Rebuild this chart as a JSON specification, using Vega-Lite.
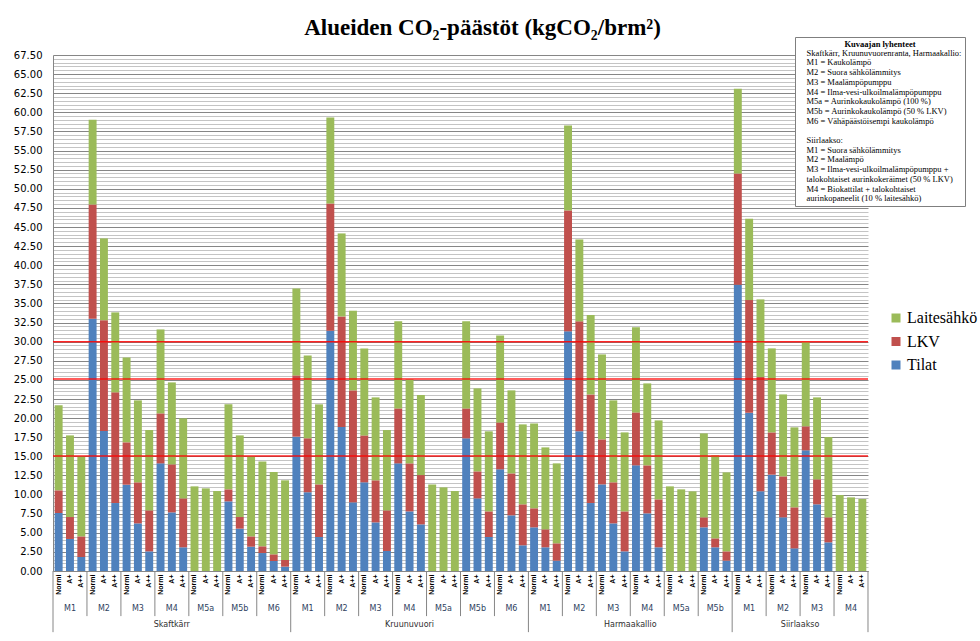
{
  "$schema": "https://vega.github.io/schema/vega-lite/v6.json",
  "width": 815,
  "height": 516,
  "autosize": {"type": "none"},
  "padding": {"left": 53, "top": 55, "right": 112, "bottom": 70},
  "background": "#ffffff",
  "config": {"view": {"stroke": null}, "axisY": {"tickCount": 135}},
  "title": {"text": "Alueiden CO₂-päästöt (kgCO₂/brm²)", "font": "Liberation Serif", "fontSize": 23, "fontWeight": "bold", "color": "#000000", "anchor": "middle", "offset": 14, "dx": 22, "dy": 17},
  "data": {"values": [
    {"area": "Skaftkärr", "M": "M1", "pos": "Normi", "Tilat": 7.59, "LKV": 2.96, "Laitesahko": 11.12},
    {"area": "Skaftkärr", "M": "M1", "pos": "A+", "Tilat": 4.19, "LKV": 2.87, "Laitesahko": 10.68},
    {"area": "Skaftkärr", "M": "M1", "pos": "A++", "Tilat": 1.83, "LKV": 2.70, "Laitesahko": 10.47},
    {"area": "Skaftkärr", "M": "M2", "pos": "Normi", "Tilat": 33.00, "LKV": 14.95, "Laitesahko": 11.08},
    {"area": "Skaftkärr", "M": "M2", "pos": "A+", "Tilat": 18.31, "LKV": 14.50, "Laitesahko": 10.70},
    {"area": "Skaftkärr", "M": "M2", "pos": "A++", "Tilat": 8.89, "LKV": 14.48, "Laitesahko": 10.46},
    {"area": "Skaftkärr", "M": "M3", "pos": "Normi", "Tilat": 11.29, "LKV": 5.54, "Laitesahko": 11.11},
    {"area": "Skaftkärr", "M": "M3", "pos": "A+", "Tilat": 6.23, "LKV": 5.37, "Laitesahko": 10.72},
    {"area": "Skaftkärr", "M": "M3", "pos": "A++", "Tilat": 2.57, "LKV": 5.36, "Laitesahko": 10.51},
    {"area": "Skaftkärr", "M": "M4", "pos": "Normi", "Tilat": 14.08, "LKV": 6.54, "Laitesahko": 10.98},
    {"area": "Skaftkärr", "M": "M4", "pos": "A+", "Tilat": 7.67, "LKV": 6.28, "Laitesahko": 10.72},
    {"area": "Skaftkärr", "M": "M4", "pos": "A++", "Tilat": 3.10, "LKV": 6.40, "Laitesahko": 10.47},
    {"area": "Skaftkärr", "M": "M5a", "pos": "Normi", "Tilat": 0, "LKV": 0, "Laitesahko": 11.07},
    {"area": "Skaftkärr", "M": "M5a", "pos": "A+", "Tilat": 0, "LKV": 0, "Laitesahko": 10.81},
    {"area": "Skaftkärr", "M": "M5a", "pos": "A++", "Tilat": 0, "LKV": 0, "Laitesahko": 10.46},
    {"area": "Skaftkärr", "M": "M5b", "pos": "Normi", "Tilat": 9.11, "LKV": 1.57, "Laitesahko": 11.12},
    {"area": "Skaftkärr", "M": "M5b", "pos": "A+", "Tilat": 5.54, "LKV": 1.52, "Laitesahko": 10.68},
    {"area": "Skaftkärr", "M": "M5b", "pos": "A++", "Tilat": 3.18, "LKV": 1.35, "Laitesahko": 10.47},
    {"area": "Skaftkärr", "M": "M6", "pos": "Normi", "Tilat": 2.35, "LKV": 0.88, "Laitesahko": 11.11},
    {"area": "Skaftkärr", "M": "M6", "pos": "A+", "Tilat": 1.31, "LKV": 0.87, "Laitesahko": 10.77},
    {"area": "Skaftkärr", "M": "M6", "pos": "A++", "Tilat": 0.57, "LKV": 0.87, "Laitesahko": 10.42},
    {"area": "Kruunuvuori", "M": "M1", "pos": "Normi", "Tilat": 17.57, "LKV": 8.02, "Laitesahko": 11.38},
    {"area": "Kruunuvuori", "M": "M1", "pos": "A+", "Tilat": 10.29, "LKV": 7.06, "Laitesahko": 10.85},
    {"area": "Kruunuvuori", "M": "M1", "pos": "A++", "Tilat": 4.45, "LKV": 6.88, "Laitesahko": 10.47},
    {"area": "Kruunuvuori", "M": "M2", "pos": "Normi", "Tilat": 31.43, "LKV": 16.65, "Laitesahko": 11.25},
    {"area": "Kruunuvuori", "M": "M2", "pos": "A+", "Tilat": 18.83, "LKV": 14.47, "Laitesahko": 10.86},
    {"area": "Kruunuvuori", "M": "M2", "pos": "A++", "Tilat": 8.98, "LKV": 14.65, "Laitesahko": 10.42},
    {"area": "Kruunuvuori", "M": "M3", "pos": "Normi", "Tilat": 11.60, "LKV": 6.14, "Laitesahko": 11.38},
    {"area": "Kruunuvuori", "M": "M3", "pos": "A+", "Tilat": 6.36, "LKV": 5.50, "Laitesahko": 10.85},
    {"area": "Kruunuvuori", "M": "M3", "pos": "A++", "Tilat": 2.62, "LKV": 5.31, "Laitesahko": 10.51},
    {"area": "Kruunuvuori", "M": "M4", "pos": "Normi", "Tilat": 14.08, "LKV": 7.19, "Laitesahko": 11.39},
    {"area": "Kruunuvuori", "M": "M4", "pos": "A+", "Tilat": 7.80, "LKV": 6.28, "Laitesahko": 10.99},
    {"area": "Kruunuvuori", "M": "M4", "pos": "A++", "Tilat": 6.10, "LKV": 6.45, "Laitesahko": 10.47},
    {"area": "Kruunuvuori", "M": "M5a", "pos": "Normi", "Tilat": 0, "LKV": 0, "Laitesahko": 11.33},
    {"area": "Kruunuvuori", "M": "M5a", "pos": "A+", "Tilat": 0, "LKV": 0, "Laitesahko": 10.94},
    {"area": "Kruunuvuori", "M": "M5a", "pos": "A++", "Tilat": 0, "LKV": 0, "Laitesahko": 10.46},
    {"area": "Kruunuvuori", "M": "M5b", "pos": "Normi", "Tilat": 17.35, "LKV": 3.92, "Laitesahko": 11.39},
    {"area": "Kruunuvuori", "M": "M5b", "pos": "A+", "Tilat": 9.50, "LKV": 3.53, "Laitesahko": 10.86},
    {"area": "Kruunuvuori", "M": "M5b", "pos": "A++", "Tilat": 4.45, "LKV": 3.35, "Laitesahko": 10.47},
    {"area": "Kruunuvuori", "M": "M6", "pos": "Normi", "Tilat": 13.30, "LKV": 6.14, "Laitesahko": 11.38},
    {"area": "Kruunuvuori", "M": "M6", "pos": "A+", "Tilat": 7.28, "LKV": 5.49, "Laitesahko": 10.86},
    {"area": "Kruunuvuori", "M": "M6", "pos": "A++", "Tilat": 3.36, "LKV": 5.36, "Laitesahko": 10.46},
    {"area": "Harmaakallio", "M": "M1", "pos": "Normi", "Tilat": 5.71, "LKV": 2.49, "Laitesahko": 11.11},
    {"area": "Harmaakallio", "M": "M1", "pos": "A+", "Tilat": 3.10, "LKV": 2.35, "Laitesahko": 10.72},
    {"area": "Harmaakallio", "M": "M1", "pos": "A++", "Tilat": 1.35, "LKV": 2.27, "Laitesahko": 10.46},
    {"area": "Harmaakallio", "M": "M2", "pos": "Normi", "Tilat": 31.35, "LKV": 15.82, "Laitesahko": 11.11},
    {"area": "Harmaakallio", "M": "M2", "pos": "A+", "Tilat": 18.27, "LKV": 14.39, "Laitesahko": 10.71},
    {"area": "Harmaakallio", "M": "M2", "pos": "A++", "Tilat": 8.89, "LKV": 14.21, "Laitesahko": 10.39},
    {"area": "Harmaakallio", "M": "M3", "pos": "Normi", "Tilat": 11.33, "LKV": 5.89, "Laitesahko": 11.11},
    {"area": "Harmaakallio", "M": "M3", "pos": "A+", "Tilat": 6.23, "LKV": 5.37, "Laitesahko": 10.72},
    {"area": "Harmaakallio", "M": "M3", "pos": "A++", "Tilat": 2.57, "LKV": 5.23, "Laitesahko": 10.33},
    {"area": "Harmaakallio", "M": "M4", "pos": "Normi", "Tilat": 13.82, "LKV": 6.93, "Laitesahko": 11.12},
    {"area": "Harmaakallio", "M": "M4", "pos": "A+", "Tilat": 7.54, "LKV": 6.28, "Laitesahko": 10.72},
    {"area": "Harmaakallio", "M": "M4", "pos": "A++", "Tilat": 3.10, "LKV": 6.27, "Laitesahko": 10.33},
    {"area": "Harmaakallio", "M": "M5a", "pos": "Normi", "Tilat": 0, "LKV": 0, "Laitesahko": 11.07},
    {"area": "Harmaakallio", "M": "M5a", "pos": "A+", "Tilat": 0, "LKV": 0, "Laitesahko": 10.68},
    {"area": "Harmaakallio", "M": "M5a", "pos": "A++", "Tilat": 0, "LKV": 0, "Laitesahko": 10.42},
    {"area": "Harmaakallio", "M": "M5b", "pos": "Normi", "Tilat": 5.71, "LKV": 1.31, "Laitesahko": 10.98},
    {"area": "Harmaakallio", "M": "M5b", "pos": "A+", "Tilat": 3.10, "LKV": 1.17, "Laitesahko": 10.86},
    {"area": "Harmaakallio", "M": "M5b", "pos": "A++", "Tilat": 1.35, "LKV": 1.22, "Laitesahko": 10.33},
    {"area": "Siirlaakso", "M": "M1", "pos": "Normi", "Tilat": 37.45, "LKV": 14.56, "Laitesahko": 11.07},
    {"area": "Siirlaakso", "M": "M1", "pos": "A+", "Tilat": 20.71, "LKV": 14.73, "Laitesahko": 10.64},
    {"area": "Siirlaakso", "M": "M1", "pos": "A++", "Tilat": 10.42, "LKV": 14.95, "Laitesahko": 10.16},
    {"area": "Siirlaakso", "M": "M2", "pos": "Normi", "Tilat": 12.60, "LKV": 5.53, "Laitesahko": 10.99},
    {"area": "Siirlaakso", "M": "M2", "pos": "A+", "Tilat": 7.02, "LKV": 5.36, "Laitesahko": 10.72},
    {"area": "Siirlaakso", "M": "M2", "pos": "A++", "Tilat": 2.96, "LKV": 5.37, "Laitesahko": 10.46},
    {"area": "Siirlaakso", "M": "M3", "pos": "Normi", "Tilat": 15.78, "LKV": 3.14, "Laitesahko": 11.07},
    {"area": "Siirlaakso", "M": "M3", "pos": "A+", "Tilat": 8.72, "LKV": 3.27, "Laitesahko": 10.72},
    {"area": "Siirlaakso", "M": "M3", "pos": "A++", "Tilat": 3.75, "LKV": 3.27, "Laitesahko": 10.50},
    {"area": "Siirlaakso", "M": "M4", "pos": "Normi", "Tilat": 0, "LKV": 0, "Laitesahko": 9.94},
    {"area": "Siirlaakso", "M": "M4", "pos": "A+", "Tilat": 0, "LKV": 0, "Laitesahko": 9.63},
    {"area": "Siirlaakso", "M": "M4", "pos": "A++", "Tilat": 0, "LKV": 0, "Laitesahko": 9.42}
  ]},
  "layer": [
    {
      "transform": [
        {"calculate": "datum.area + '|' + datum.M + '|' + datum.pos", "as": "key"},
        {"fold": ["Tilat", "LKV", "Laitesahko"], "as": ["series", "value"]},
        {"calculate": "indexof(['Tilat','LKV','Laitesahko'], datum.series)", "as": "stackOrder"}
      ],
      "mark": {"type": "bar"},
      "encoding": {
        "x": {"field": "key", "type": "nominal", "sort": null,
          "scale": {"paddingInner": 0.3, "paddingOuter": 0.15},
          "axis": {"title": null, "labelExpr": "split(datum.label, '|')[2]", "labelAngle": -90, "labelFont": "Liberation Sans", "labelFontSize": 7, "labelFontWeight": "bold", "labelColor": "#000000", "labelPadding": 3, "ticks": false, "domainColor": "#868686", "grid": false, "labelOverlap": false}},
        "y": {"field": "value", "type": "quantitative", "stack": "zero",
          "scale": {"domain": [0, 67.5], "nice": false},
          "axis": {"title": null,
            "tickCount": 135,
            "labelExpr": "datum.value % 2.5 == 0 ? format(datum.value, '.2f') : ''",
            "grid": true,
            "gridColor": {"condition": {"test": "datum.value % 2.5 == 0", "value": "#868686"}, "value": "#C4C4C4"},
            "gridWidth": 1,
            "ticks": false, "domainColor": "#868686",
            "labelFont": "DejaVu Sans", "labelFontSize": 10, "labelColor": "#000000", "labelPadding": 11, "labelOverlap": false}},
        "color": {"field": "series", "type": "nominal",
          "scale": {"domain": ["Laitesahko", "LKV", "Tilat"], "range": ["#9BBB59", "#C0504D", "#4F81BD"]},
          "legend": {"title": null, "orient": "none", "legendX": 835, "legendY": 255, "symbolType": "square", "symbolSize": 81, "symbolStrokeWidth": 0, "labelFont": "Liberation Serif", "labelFontSize": 16, "labelColor": "#000000", "rowPadding": 7.5, "labelOffset": 3,
            "labelExpr": "datum.label == 'Laitesahko' ? 'Laitesähkö' : datum.label"}},
        "order": {"field": "stackOrder", "type": "quantitative"}
      }
    },
    {
      "data": {"values": [{"limit": 30}, {"limit": 25.1}, {"limit": 15.05}]},
      "mark": {"type": "rule", "color": "#FF0000", "strokeWidth": 1.5, "opacity": 0.85},
      "encoding": {"y": {"field": "limit", "type": "quantitative", "title": null}}
    },
    {
      "transform": [
        {"calculate": "datum.area + '|' + datum.M + '|' + datum.pos", "as": "key"},
        {"filter": "datum.pos == 'Normi' && datum.M != 'M1'"}
      ],
      "mark": {"type": "rule", "color": "#868686", "strokeWidth": 1},
      "encoding": {
        "x": {"field": "key", "type": "nominal", "sort": null, "bandPosition": -0.214, "title": null},
        "y": {"datum": 0},
        "y2": {"datum": -5.9}
      }
    },
    {
      "transform": [
        {"calculate": "datum.area + '|' + datum.M + '|' + datum.pos", "as": "key"},
        {"filter": "datum.pos == 'Normi' && datum.M == 'M1'"}
      ],
      "mark": {"type": "rule", "color": "#868686", "strokeWidth": 1},
      "encoding": {
        "x": {"field": "key", "type": "nominal", "sort": null, "bandPosition": -0.214, "title": null},
        "y": {"datum": 0},
        "y2": {"datum": -8.0}
      }
    },
    {
      "transform": [
        {"calculate": "datum.area + '|' + datum.M + '|' + datum.pos", "as": "key"},
        {"filter": "datum.area == 'Siirlaakso' && datum.M == 'M4' && datum.pos == 'A++'"}
      ],
      "mark": {"type": "rule", "color": "#868686", "strokeWidth": 1},
      "encoding": {
        "x": {"field": "key", "type": "nominal", "sort": null, "bandPosition": 1.214, "title": null},
        "y": {"datum": 0},
        "y2": {"datum": -8.0}
      }
    },
    {
      "transform": [
        {"calculate": "datum.area + '|' + datum.M + '|' + datum.pos", "as": "key"},
        {"filter": "datum.pos == 'A+'"}
      ],
      "mark": {"type": "text", "font": "DejaVu Sans", "fontSize": 8, "color": "#2F3F5F", "align": "center", "baseline": "middle"},
      "encoding": {
        "x": {"field": "key", "type": "nominal", "sort": null, "title": null},
        "y": {"datum": -5.0},
        "text": {"field": "M"}
      }
    },
    {
      "transform": [
        {"calculate": "datum.area + '|' + datum.M + '|' + datum.pos", "as": "key"},
        {"filter": "(datum.area == 'Skaftkärr' || datum.area == 'Kruunuvuori') && datum.M == 'M4' && datum.pos == 'A+'"}
      ],
      "mark": {"type": "text", "font": "DejaVu Sans", "fontSize": 8, "color": "#2F2F2F", "align": "center", "baseline": "middle"},
      "encoding": {
        "x": {"field": "key", "type": "nominal", "sort": null, "title": null},
        "y": {"datum": -7.1},
        "text": {"field": "area"}
      }
    },
    {
      "transform": [
        {"calculate": "datum.area + '|' + datum.M + '|' + datum.pos", "as": "key"},
        {"filter": "((datum.area == 'Harmaakallio' && datum.M == 'M4') || (datum.area == 'Siirlaakso' && datum.M == 'M3')) && datum.pos == 'Normi'"}
      ],
      "mark": {"type": "text", "font": "DejaVu Sans", "fontSize": 8, "color": "#2F2F2F", "align": "center", "baseline": "middle"},
      "encoding": {
        "x": {"field": "key", "type": "nominal", "sort": null, "bandPosition": -0.214, "title": null},
        "y": {"datum": -7.1},
        "text": {"field": "area"}
      }
    },
    {
      "data": {"values": [
        {"line": "Skaftkärr, Kruunuvuorenranta, Harmaakallio:"},
        {"line": "M1 = Kaukolämpö"},
        {"line": "M2 = Suora sähkölämmitys"},
        {"line": "M3 = Maalämpöpumppu"},
        {"line": "M4 = Ilma-vesi-ulkoilmalämpöpumppu"},
        {"line": "M5a = Aurinkokaukolämpö (100 %)"},
        {"line": "M5b = Aurinkokaukolämpö (50 % LKV)"},
        {"line": "M6 = Vähäpäästöisempi kaukolämpö"},
        {"line": " "},
        {"line": "Siirlaakso:"},
        {"line": "M1 = Suora sähkölämmitys"},
        {"line": "M2 = Maalämpö"},
        {"line": "M3 = Ilma-vesi-ulkoilmalämpöpumppu +"},
        {"line": "talokohtaiset aurinkokeräimet (50 % LKV)"},
        {"line": "M4 = Biokattilat + talokohtaiset"},
        {"line": "aurinkopaneelit (10 % laitesähkö)"}
      ]},
      "mark": {"type": "point", "opacity": 0},
      "encoding": {
        "shape": {"field": "line", "type": "nominal", "sort": null,
          "legend": {"title": "Kuvaajan lyhenteet", "orient": "none", "legendX": 742, "legendY": -18, "direction": "vertical", "symbolSize": 0, "symbolOpacity": 0, "symbolStrokeWidth": 0, "labelOffset": 0, "labelFont": "Liberation Serif", "labelFontSize": 8.5, "labelColor": "#000000", "labelLimit": 400, "rowPadding": 0.7, "titleFont": "Liberation Serif", "titleFontSize": 8.5, "titleFontWeight": "bold", "titleAnchor": "middle", "titleColor": "#000000", "titlePadding": 0, "strokeColor": "#7F7F7F", "fillColor": "#ffffff", "padding": 3}}
      }
    }
  ]
}
